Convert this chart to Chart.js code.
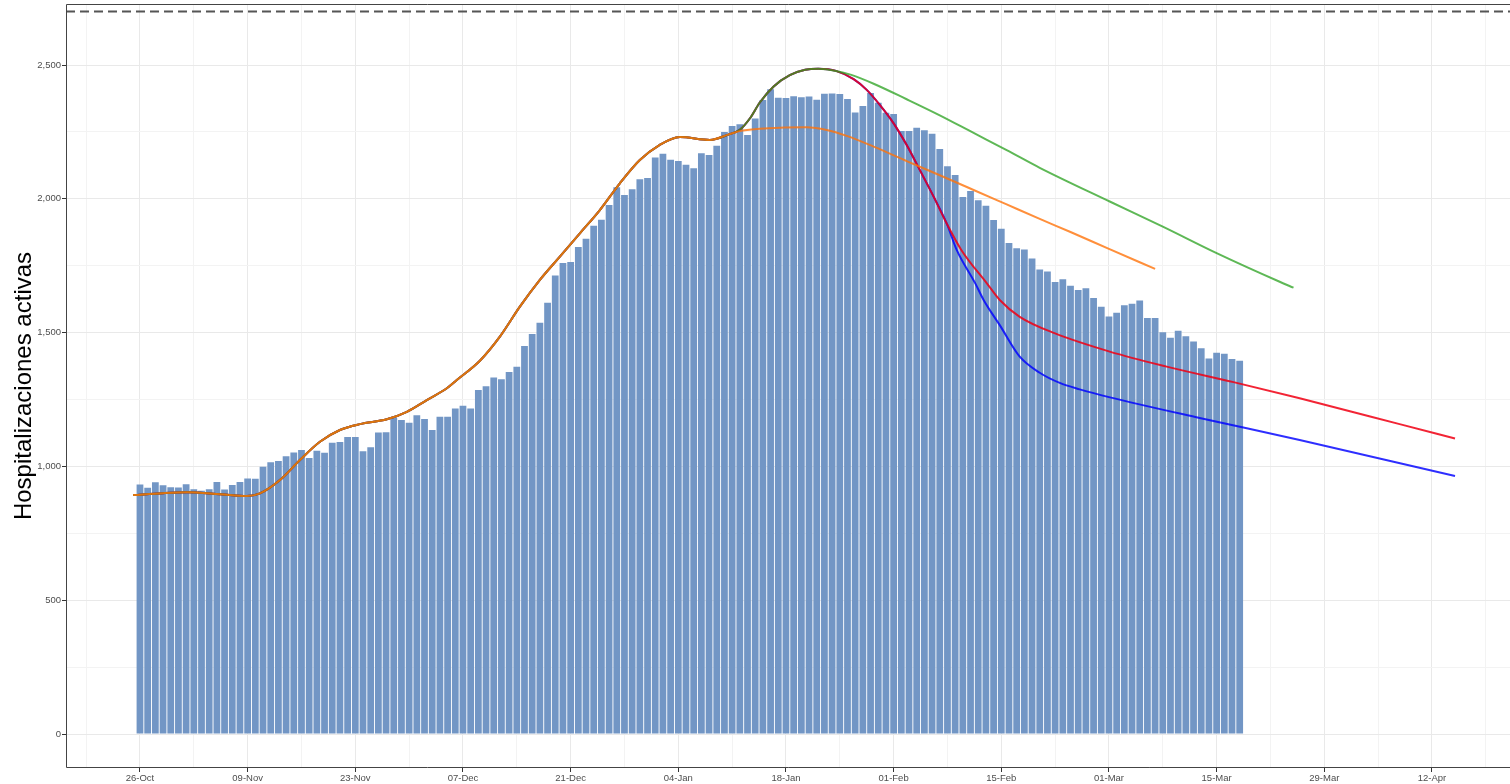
<!DOCTYPE html>
<html>
<head>
<meta charset="utf-8">
<script src="https://cdn.jsdelivr.net/npm/chart.js@4.4.1/dist/chart.umd.min.js"></script>
<style>
html,body{margin:0;padding:0;background:#ffffff;}
#wrap{position:relative;width:1510px;height:784px;}
</style>
</head>
<body>
<div id="wrap"><canvas id="c" width="1510" height="784"></canvas></div>
<script>
// ---- Data (day 0 = 26-Oct) ----
const hospitalizations = [
  932, 920, 941, 930, 922, 921, 933, 915, 909, 915,
  942, 914, 931, 942, 955, 954, 999, 1016, 1020, 1038,
  1052, 1061, 1031, 1059, 1051, 1088, 1091, 1110, 1110, 1057,
  1072, 1127, 1128, 1182, 1173, 1163, 1191, 1177, 1136, 1186,
  1186, 1216, 1227, 1216, 1286, 1300, 1332, 1326, 1353, 1372,
  1450, 1495, 1537, 1612, 1713, 1760, 1764, 1820, 1851, 1899,
  1922, 1977, 2043, 2014, 2036, 2073, 2078, 2154, 2168, 2146,
  2141, 2127, 2114, 2170, 2164, 2198, 2250, 2272, 2279, 2238,
  2300, 2369, 2409, 2378, 2377, 2383, 2380, 2382, 2370, 2393,
  2394, 2392, 2373, 2323, 2347, 2395, 2359, 2322, 2317, 2253,
  2253, 2266, 2256, 2243, 2186, 2122, 2089, 2007, 2029, 1995,
  1974, 1921, 1888, 1835, 1815, 1811, 1777, 1736, 1728, 1689,
  1699, 1675, 1659, 1666, 1629, 1597, 1560, 1574, 1602, 1608,
  1620, 1555, 1555, 1501, 1481, 1507, 1486, 1467, 1442, 1403,
  1425, 1421, 1401, 1395
];

const tickLabels = ['26-Oct','09-Nov','23-Nov','07-Dec','21-Dec','04-Jan','18-Jan','01-Feb','15-Feb','01-Mar','15-Mar','29-Mar','12-Apr'];
const tickDays   = [0, 14, 28, 42, 56, 70, 84, 98, 112, 126, 140, 154, 168];

const capacityLevel = [2700];

// fitted curve shared by all scenarios
const sharedDays = [-0.9, 3, 6.1, 10.4, 13.9, 15.6, 18.2, 20.8, 23.4, 26, 28.6, 32.1, 34.7, 37.3, 39.9, 41.2, 44.2, 46.8, 49.4, 52, 54.6, 57.2, 59.8, 62.4, 65, 67.5, 70.2, 74.1, 76.5];
const sharedVals = [893, 900, 903, 896, 889, 899, 949, 1024, 1092, 1136, 1158, 1176, 1204, 1248, 1292, 1323, 1395, 1485, 1597, 1697, 1784, 1871, 1958, 2058, 2145, 2200, 2231, 2220, 2240];

// orange scenario tail
const orangeDays = [78, 80.6, 83.2, 86.7, 89.3, 91.9, 95.4, 99.7, 104, 108.4, 112.7, 117, 121, 126, 132];
const orangeVals = [2253, 2262, 2266, 2267, 2257, 2235, 2195, 2141, 2088, 2033, 1979, 1925, 1876, 1813, 1738];

// peak shared by green, red, blue
const peakDays = [78, 79.3, 80.6, 82.4, 84.5, 86.5, 88.2, 90.5];
const peakVals = [2258, 2300, 2360, 2420, 2462, 2482, 2486, 2478];

// green scenario tail
const greenDays = [92.5, 95.4, 99.7, 104, 108.4, 112.7, 117, 126.1, 133, 140, 148.2, 150];
const greenVals = [2463, 2430, 2372, 2312, 2246, 2182, 2116, 1990, 1896, 1797, 1690, 1668];

// decline shared by red and blue
const dropDays = [92.8, 94.5, 96.2, 98, 99.7, 101.4, 103.2, 104.9];
const dropVals = [2447, 2407, 2351, 2282, 2201, 2108, 2008, 1908];

// red scenario tail
const redDays = [106.8, 110.1, 111.8, 114.4, 119, 126.1, 133.5, 142.2, 150.8, 163.8, 171];
const redVals = [1809, 1685, 1622, 1559, 1497, 1429, 1373, 1315, 1255, 1158, 1104];

// blue scenario tail
const blueDays = [106.2, 108.6, 109.7, 111.8, 114.4, 117, 119.6, 122.2, 126, 137.8, 150.8, 171];
const blueVals = [1809, 1685, 1622, 1528, 1410, 1350, 1312, 1288, 1259, 1181, 1099, 964];

// ---- helpers ----
function pts(days, vals){ return days.map((d,i)=>({x:d, y:vals[i]})); }
const xMin = -9.62, xMax = 178.15;

const barData = hospitalizations.map((v,i)=>({x:i, y:v}));
const orangeLine = pts(sharedDays, sharedVals).concat(pts(orangeDays, orangeVals));
const greenLine  = pts(sharedDays, sharedVals).concat(pts(peakDays, peakVals), pts(greenDays, greenVals));
const redLine    = pts(sharedDays, sharedVals).concat(pts(peakDays, peakVals), pts(dropDays, dropVals), pts(redDays, redVals));
const blueLine   = pts(sharedDays, sharedVals).concat(pts(peakDays, peakVals), pts(dropDays, dropVals), pts(blueDays, blueVals));
const capLine = [{x:xMin, y:capacityLevel[0]}, {x:xMax, y:capacityLevel[0]}];

const lineCommon = {type:'line', pointRadius:0, borderWidth:2, fill:false, cubicInterpolationMode:'monotone'};

const panelBorder = {
  id:'panelBorder',
  afterDatasetsDraw(chart){
    const {ctx, chartArea:a} = chart;
    ctx.save();
    ctx.strokeStyle = '#444';
    ctx.lineWidth = 1;
    ctx.beginPath();
    ctx.moveTo(a.right, a.top + 0.5);
    ctx.lineTo(a.left + 0.5, a.top + 0.5);
    ctx.lineTo(a.left + 0.5, a.bottom - 0.5);
    ctx.lineTo(a.right, a.bottom - 0.5);
    ctx.stroke();
    ctx.restore();
  }
};

const tickFont = {family:'"Liberation Sans", Arial, Helvetica, sans-serif', size:9.5};

new Chart(document.getElementById('c'), {
  type:'bar',
  data:{
    datasets:[
      Object.assign({}, lineCommon, {data:capLine, borderColor:'#555555', borderWidth:2, borderDash:[9,5], order:1}),
      Object.assign({}, lineCommon, {data:orangeLine, borderColor:'rgba(255,115,10,0.8)', order:2}),
      Object.assign({}, lineCommon, {data:greenLine, borderColor:'rgba(40,160,30,0.75)', order:3}),
      Object.assign({}, lineCommon, {data:redLine, borderColor:'rgba(240,0,20,0.86)', order:4}),
      Object.assign({}, lineCommon, {data:blueLine, borderColor:'rgba(0,0,255,0.82)', order:5}),
      {type:'bar', data:barData, backgroundColor:'rgb(114,150,197)', borderWidth:0, barPercentage:0.88, categoryPercentage:1, order:10}
    ]
  },
  options:{
    responsive:false,
    animation:false,
    devicePixelRatio:1,
    layout:{padding:{top:4, right:0, bottom:0, left:0}},
    plugins:{legend:{display:false}, tooltip:{enabled:false}},
    scales:{
      x:{
        type:'linear', min:xMin, max:xMax, offset:false,
        afterBuildTicks(s){ const t=[]; for(let d=-7; d<=175; d+=7) t.push({value:d}); s.ticks=t; },
        afterFit(s){ s.height = 16; s.paddingLeft = 0; s.paddingRight = 0; },
        ticks:{
          autoSkip:false, maxRotation:0, minRotation:0, padding:1, color:'#4d4d4d', font:tickFont,
          callback(v){ const i = tickDays.indexOf(v); return i>=0 ? tickLabels[i] : ''; }
        },
        grid:{
          offset:false, tickLength:4, lineWidth:1,
          color(ctx){ return (ctx.tick && tickDays.indexOf(ctx.tick.value)>=0) ? '#e9e9e9' : '#f3f3f3'; },
          tickColor(ctx){ return (ctx.tick && tickDays.indexOf(ctx.tick.value)>=0) ? '#333333' : 'rgba(0,0,0,0)'; }
        },
        border:{display:false}
      },
      y:{
        type:'linear', min:-127, max:2728,
        afterBuildTicks(s){ const t=[]; for(let v=0; v<=2500; v+=250) t.push({value:v}); s.ticks=t; },
        afterFit(s){ s.width = 66; s.paddingTop = 0; s.paddingBottom = 0; },
        ticks:{
          padding:1, color:'#4d4d4d', font:tickFont,
          callback(v){ return v % 500 === 0 ? v.toLocaleString('en-US') : ''; }
        },
        grid:{
          tickLength:4, lineWidth:1,
          color(ctx){ return (ctx.tick && ctx.tick.value % 500 === 0) ? '#e9e9e9' : '#f3f3f3'; },
          tickColor(ctx){ return (ctx.tick && ctx.tick.value % 500 === 0) ? '#333333' : 'rgba(0,0,0,0)'; }
        },
        border:{display:false},
        title:{
          display:true, text:'Hospitalizaciones activas', color:'#000000',
          font:{family:'"Liberation Sans", Arial, Helvetica, sans-serif', size:24, weight:'normal'},
          padding:{top:10, bottom:0}
        }
      }
    }
  },
  plugins:[panelBorder]
});
</script>
</body>
</html>
